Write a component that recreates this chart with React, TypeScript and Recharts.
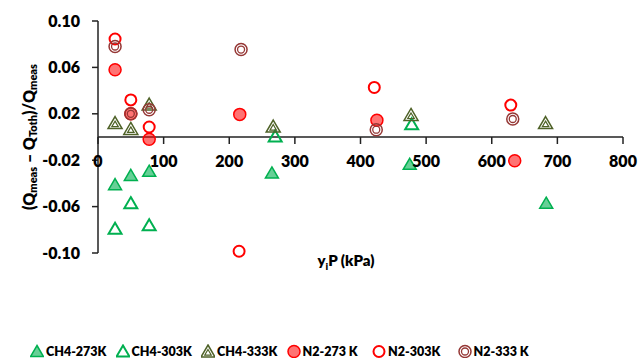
import React from 'react'
import { ScatterChart, Scatter, XAxis, YAxis, ReferenceLine, Legend, Label } from 'recharts'

// partial pressure (kPa) and relative deviation
const ch4_273P = [26, 50, 78, 265, 475, 683]
const ch4_273Dev = [-0.041, -0.033, -0.0295, -0.031, -0.0235, -0.057]
const ch4_303P = [26, 50, 78, 270, 478]
const ch4_303Dev = [-0.079, -0.057, -0.076, 0.0006, 0.011]
const ch4_333P = [26, 50, 78, 267, 477, 682]
const ch4_333Dev = [0.012, 0.007, 0.028, 0.009, 0.019, 0.012]
const n2_273P = [26, 50, 78, 216, 425, 635]
const n2_273Dev = [0.058, 0.02, -0.002, 0.0195, 0.0145, -0.0205]
const n2_303P = [26, 50, 78, 215, 421, 629]
const n2_303Dev = [0.0845, 0.032, 0.0086, -0.0985, 0.0427, 0.0275]
const n2_333P = [26, 50, 78, 218, 424, 632]
const n2_333Dev = [0.078, 0.02, 0.0235, 0.0754, 0.0063, 0.0155]

const xTicks = [0, 100, 200, 300, 400, 500, 600, 700, 800]
const yTicks = [-0.1, -0.06, -0.02, 0.02, 0.06, 0.1]

const zip = (xs: number[], ys: number[]) => xs.map((x, i) => ({ x, y: ys[i] }))

const W = 638
const H = 360
const TOP = 21
const X_AXIS_H = 85
const LEGEND_H = 22
const PLOT_H = H - TOP - X_AXIS_H - LEGEND_H
const FONT = 'Lato, "Open Sans", sans-serif'

type Kind = 'triFill' | 'triOpen' | 'triDouble' | 'circFill' | 'circOpen' | 'circDouble'

const triPath = (cx: number, cy: number, s: number) =>
  `M${cx},${cy - s} L${cx + s * 1.08},${cy + s * 0.85} L${cx - s * 1.08},${cy + s * 0.85} Z`

function Marker({ kind, cx, cy }: { kind: Kind; cx: number; cy: number }) {
  const green = '#00B050'
  const olive = '#4F6228'
  const red = '#FF0000'
  const maroon = '#953735'
  switch (kind) {
    case 'triFill':
      return <path d={triPath(cx, cy, 6)} fill={green} fillOpacity={0.6} stroke={green} strokeWidth={1.5} />
    case 'triOpen':
      return <path d={triPath(cx, cy, 6)} fill="none" stroke={green} strokeWidth={2} />
    case 'triDouble':
      return (
        <g>
          <path d={triPath(cx, cy, 6.5)} fill="none" stroke={olive} strokeWidth={1.5} />
          <path d={triPath(cx, cy + 1, 3)} fill="none" stroke={olive} strokeWidth={1.2} />
        </g>
      )
    case 'circFill':
      return <circle cx={cx} cy={cy} r={6} fill={red} fillOpacity={0.55} stroke={red} strokeWidth={1.5} />
    case 'circOpen':
      return <circle cx={cx} cy={cy} r={5.5} fill="none" stroke={red} strokeWidth={2} />
    default:
      return (
        <g>
          <circle cx={cx} cy={cy} r={6} fill="none" stroke={maroon} strokeWidth={1.5} />
          <circle cx={cx} cy={cy} r={3.5} fill="none" stroke={maroon} strokeWidth={1.3} />
        </g>
      )
  }
}

const series: { name: string; kind: Kind; data: { x: number; y: number }[] }[] = [
  { name: 'CH4-273K', kind: 'triFill', data: zip(ch4_273P, ch4_273Dev) },
  { name: 'CH4-303K', kind: 'triOpen', data: zip(ch4_303P, ch4_303Dev) },
  { name: 'CH4-333K', kind: 'triDouble', data: zip(ch4_333P, ch4_333Dev) },
  { name: 'N2-273 K', kind: 'circFill', data: zip(n2_273P, n2_273Dev) },
  { name: 'N2-303K', kind: 'circOpen', data: zip(n2_303P, n2_303Dev) },
  { name: 'N2-333 K', kind: 'circDouble', data: zip(n2_333P, n2_333Dev) },
]

// x ticks drawn on the zero line instead of the plot bottom
const XTick = (props: any) => {
  const { x, y, payload } = props
  const zeroY = y - PLOT_H / 2
  return (
    <g>
      <line x1={x} x2={x} y1={zeroY} y2={zeroY + 7} stroke="#222" strokeWidth={1.5} />
      <text x={x} y={zeroY + 30} textAnchor="middle" fontSize={16} fontWeight={800} fill="#000" fontFamily={FONT}>
        {payload.value}
      </text>
    </g>
  )
}

const YLabel = (props: any) => {
  const vb = props.viewBox
  const cx = 28
  const cy = vb.y + vb.height / 2
  return (
    <text
      x={cx}
      y={cy}
      transform={`rotate(-90 ${cx} ${cy})`}
      textAnchor="middle"
      dominantBaseline="central"
      fontSize={16}
      fontWeight={800}
      fontFamily={FONT}
      fill="#000"
    >
      <tspan>(Q</tspan>
      <tspan fontSize={11} dy={4}>meas</tspan>
      <tspan dy={-4}> – Q</tspan>
      <tspan fontSize={11} dy={4}>Toth</tspan>
      <tspan dy={-4}>)/Q</tspan>
      <tspan fontSize={11} dy={4}>meas</tspan>
    </text>
  )
}

const XLabel = (props: any) => {
  const vb = props.viewBox
  const x = 346
  const y = vb.y + 13
  return (
    <text x={x} y={y} textAnchor="middle" fontSize={15} fontWeight={800} fontFamily={FONT} fill="#000">
      <tspan>y</tspan>
      <tspan fontSize={10} dy={4}>i</tspan>
      <tspan dy={-4}>P (kPa)</tspan>
    </text>
  )
}

const renderLegend = () => (
  <div style={{ position: 'relative', height: LEGEND_H, fontFamily: FONT }}>
    {series.map((s, i) => (
      <div
        key={s.name}
        style={{
          position: 'absolute',
          left: 30 + i * 85.5,
          top: 2,
          height: LEGEND_H,
          display: 'flex',
          alignItems: 'center',
          fontSize: 12.5,
          fontWeight: 800,
          color: '#000',
          whiteSpace: 'nowrap',
        }}
      >
        <svg width={14} height={14} style={{ marginRight: 2 }}>
          <Marker kind={s.kind} cx={7} cy={7.5} />
        </svg>
        {s.name}
      </div>
    ))}
  </div>
)

export default function App() {
  return (
    <div style={{ position: 'absolute', left: 0, top: 0, width: W, height: H, background: '#fff' }}>
      <ScatterChart width={W} height={H} margin={{ top: TOP, right: 15, bottom: 0, left: 0 }}>
        <XAxis
          type="number"
          dataKey="x"
          domain={[0, 800]}
          ticks={xTicks}
          axisLine={false}
          tickLine={false}
          tickSize={0}
          tickMargin={0}
          height={X_AXIS_H}
          tick={<XTick />}
          interval={0}
        >
          <Label content={<XLabel />} />
        </XAxis>
        <YAxis
          type="number"
          dataKey="y"
          domain={[-0.1, 0.1]}
          ticks={yTicks}
          width={98}
          interval={0}
          tickFormatter={(v: number) => v.toFixed(2)}
          tick={{ fontSize: 16, fontWeight: 800, fill: '#000', fontFamily: FONT }}
          axisLine={{ stroke: '#222', strokeWidth: 1.5 }}
          tickLine={{ stroke: '#222', strokeWidth: 1.5 }}
          tickSize={6}
          tickMargin={12}
        >
          <Label content={<YLabel />} />
        </YAxis>
        <ReferenceLine y={0} stroke="#222" strokeWidth={1.5} />
        {series.map((s) => (
          <Scatter
            key={s.name}
            name={s.name}
            data={s.data}
            isAnimationActive={false}
            shape={(p: any) => <Marker kind={s.kind} cx={p.cx} cy={p.cy} />}
          />
        ))}
        <Legend verticalAlign="bottom" height={LEGEND_H} content={renderLegend} wrapperStyle={{ left: 0, width: W }} />
      </ScatterChart>
    </div>
  )
}
